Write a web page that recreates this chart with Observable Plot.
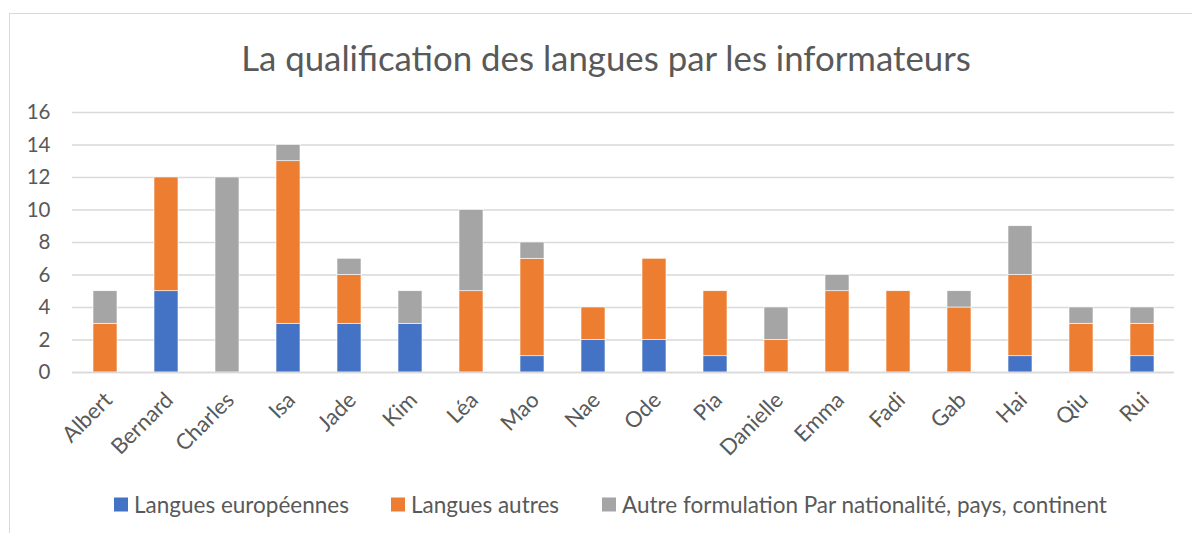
<!DOCTYPE html>
<html>
<head>
<meta charset="utf-8">
<script src="https://cdn.jsdelivr.net/npm/d3@7"></script>
<script src="https://cdn.jsdelivr.net/npm/@observablehq/plot@0.6"></script>
<style>
  html, body { margin: 0; padding: 0; background: #fff; }
  body { width: 1192px; height: 533px; overflow: hidden; position: relative; font-family: Lato, "Open Sans", sans-serif; color: #595959; }
  #frame { position: absolute; left: 9px; top: 13px; width: 1300px; height: 600px; border: 1.5px solid #d9d9d9; box-sizing: border-box; }
  #title { position: absolute; left: 10px; width: 1192px; text-align: center; font-size: 34.8px; line-height: 1; top: 41px; color: #595959; white-space: nowrap; }
  #chart { position: absolute; left: 0; top: 90px; }
  #legend { position: absolute; top: 504px; left: 0; width: 1192px; font-size: 22.5px; color: #595959; }
  .item { position: absolute; display: flex; align-items: center; white-space: nowrap; transform: translateY(-50%); }
  .sw { width: 14px; height: 14px; margin-right: 6px; }
</style>
</head>
<body>
<div id="frame"></div>
<div id="title">La qualification des langues par les informateurs</div>
<div id="chart"></div>
<div id="legend"></div>
<script>
const names = ["Albert","Bernard","Charles","Isa","Jade","Kim","Léa","Mao","Nae","Ode","Pia","Danielle","Emma","Fadi","Gab","Hai","Qiu","Rui"];
const seriesNames = ["Langues européennes","Langues autres","Autre formulation Par nationalité, pays, continent"];
const europeennes = [0,5,0,3,3,3,0,1,2,2,1,0,0,0,0,1,0,1];
const autres      = [3,7,0,10,3,0,5,6,2,5,4,2,5,5,4,5,3,2];
const formulation = [2,0,12,1,1,2,5,1,0,0,0,2,1,0,1,3,1,1];
const yTicks = [0,2,4,6,8,10,12,14,16];
const colors = ["#4472C4","#ED7D31","#A5A5A5"];

const seriesValues = [europeennes, autres, formulation];
const rows = [];
seriesValues.forEach((vals, s) => vals.forEach((v, i) => rows.push({name: names[i], series: seriesNames[s], value: v})));

const chart = Plot.plot({
  width: 1192,
  height: 380,
  marginTop: 22,
  marginBottom: 98,
  marginLeft: 72,
  marginRight: 18,
  style: {fontFamily: "Lato, 'Open Sans', sans-serif", fontSize: "20.5px", color: "#595959", background: "transparent"},
  x: {domain: names, paddingInner: 0.61, paddingOuter: 0.305, label: null},
  y: {domain: [0, 16], label: null},
  color: {domain: seriesNames, range: colors},
  marks: [
    Plot.ruleY(yTicks, {stroke: "#d9d9d9", strokeWidth: 1.5, strokeOpacity: 1}),
    Plot.barY(rows, Plot.stackY({x: "name", y: "value", fill: "series", order: seriesNames, stroke: "#fff", strokeWidth: 0.6})),
    Plot.ruleY([0], {stroke: "#d9d9d9", strokeWidth: 1.5}),
    Plot.axisY({ticks: yTicks, tickSize: 0, tickPadding: 22, label: null, fontSize: 20.5}),
    Plot.axisX({tickSize: 0, tickPadding: 24, tickRotate: -45, dx: 3, label: null, fontSize: 22})
  ]
});
document.getElementById("chart").appendChild(chart);

const legend = document.getElementById("legend");
const lx = [114, 391, 602];
seriesNames.forEach((n, i) => {
  const it = document.createElement("div");
  it.className = "item";
  it.style.left = lx[i] + "px";
  it.innerHTML = `<span class="sw" style="background:${colors[i]}"></span><span>${n}</span>`;
  legend.appendChild(it);
});
</script>
</body>
</html>
